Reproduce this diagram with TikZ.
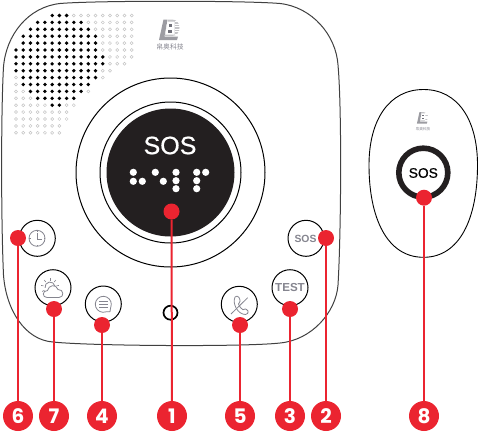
\documentclass[tikz,border=0pt]{standalone}
\usepackage{fontspec}
\setmainfont{Liberation Sans}
\newfontfamily\numfont{Poppins}
\newfontfamily\medfont[FakeBold=0.6]{Liberation Sans}
\newfontfamily\cjk{Noto Sans CJK SC}
\usepackage{xcolor}
\definecolor{sbred}{HTML}{EB2430}
\definecolor{sbdisk}{HTML}{231F20}
\definecolor{sbicon}{HTML}{85858F}
\definecolor{sbdot}{HTML}{C4C4C4}
\definecolor{sblogo}{HTML}{9C9CA2}
\newcommand{\fsz}[1]{\fontsize{#1}{#1}\selectfont}
\tikzset{
  logomark/.pic={
    \fill[sblogo] (-6.5,-10.5) -- (-2.5,-10.5) -- (-5.5,6.5) -- (8,6.5) -- (7,10) -- (-11,10) -- cycle;
    \fill[sblogo!60] (-2,-10.5) -- (2,-10.5) .. controls (12,-10.5) and (12,6) .. (2,6) -- (-5,6) -- cycle;
    \foreach \sy in {-8.5,-6,...,5}{\draw[white,line width=.7] (4.5,\sy) -- (11,\sy);}
    \fill[white] (-2.6,-8.5) -- (4.5,-8.5) -- (4.5,4.5) -- (-4.6,4.5) -- cycle;
    \fill[sbicon!85!black] (-1.2,-6) rectangle (2.2,-3);
    \fill[sbicon!85!black] (-1.8,-.5) rectangle (1.7,2.5);
  }
}
\begin{document}
\begin{tikzpicture}[
  x=1pt,y=-1pt,
  ring/.style={circle,draw=black,line width=1pt,fill=white,inner sep=0pt},
  button/.style={ring,minimum size=36pt},
  btntext/.style={font=\bfseries\fsz{#1},text=sbicon,inner sep=0pt},
  icon/.style={draw=sbicon,line width=.8pt},
  reddot/.style={circle,fill=sbred,minimum size=16pt,inner sep=0pt},
  numdot/.style={circle,fill=sbred,minimum size=30pt,inner sep=0pt,text=white,font=\numfont\bfseries\fsz{20}},
  leader/.style={draw=sbred,line width=2pt},
  brl/.style={fill=white,radius=3.6}
]
\useasboundingbox (0,0) rectangle (478,431);

% main unit
\draw[draw=black!75,line width=1pt] (60,3.5) .. controls (28,7) and (6,35) .. (3.5,67)
  .. controls (1,110) and (1,220) .. (3.5,275) .. controls (6,310) and (25,340) .. (53,342)
  .. controls (90,346) and (245,347) .. (280,343) .. controls (312,340) and (336,312) .. (338,285)
  .. controls (341,235) and (342,110) .. (338,65) .. controls (336,35) and (312,7) .. (280,3.5)
  .. controls (245,.5) and (95,.5) .. (60,3.5) -- cycle;

% speaker holes
\foreach \row/\st/\ba/\bb/\gr in {0/5/5/7/16,1/3/3/9/16,2/2/2/10/16,3/1/1/11/16,4/1/1/11/16,5/0/0/11/16,
  6/0/0/12/16,7/0/0/12/15,8/0/0/11/13,9/0/1/11/12,10/0/1/10/10,11/0/2/9/10,12/0/3/8/8,13/0/5/6/8,
  14/0/99/99/7,15/0/99/99/7,16/0/99/99/6,17/0/99/99/6}{
  \foreach \col in {\st,...,\gr}{
    \pgfmathsetmacro{\hx}{16+7.23*\col}
    \pgfmathsetmacro{\hy}{15.5+6.9*\row}
    \ifnum\col<\ba
      \draw[sbdot,line width=.5pt] (\hx,\hy) circle (1.5);
    \else\ifnum\col>\bb
      \draw[sbdot,line width=.5pt] (\hx,\hy) circle (1.5);
    \else
      \fill[black] (\hx,\hy) circle (1.9);
    \fi\fi
  }
}

% logo
\pic at (170,30) {logomark};
\node[inner sep=0pt,text=sbicon,font=\cjk\fsz{6.8}] (brand) at (170,47) {帛奥科技};

% centre button
\node[ring,minimum size=189pt] (outerring) at (170.5,172.5) {};
\node[ring,minimum size=141pt] (innerring) at (170.5,172.5) {};
\node[circle,fill=sbdisk,minimum size=128pt,inner sep=0pt] (disk) at (170.5,172.5) {};
\node[text=white,inner sep=0pt,font=\medfont\fsz{25}] (sostext) at (170,145.5) {SOS};
\foreach \bx/\by in {133.3/172.3,133.3/181.3,142.3/181.3,155.3/172.3,163.3/181.3,176/172.3,176/180.7,176/188.7,196.7/172.3,205.7/172.3,196.7/180.7,196.7/188.7}{
  \fill[brl] (\bx,\by) circle;
}

% side buttons
\node[button] (clock) at (37.3,238.3) {};
\node[button] (weather) at (53,287.7) {};
\node[button] (chat) at (103.3,304) {};
\node[button] (phone) at (239.3,304.3) {};
\node[button] (test) at (290,287.7) {};
\node[button] (sosbtn) at (306,238.3) {};
\node[btntext=10.4] (sosbtntext) at (305.5,239) {SOS};
\node[btntext=11.6] (testtext) at (290,288) {TEST};
\node[circle,draw=black,line width=1.7pt,minimum size=14pt,inner sep=0pt] (hole) at (170.5,312.7) {};

% icons
\draw[icon] (37,238.3) circle (8);
\draw[icon] (37,233) -- (37,239) -- (41.5,239);
\foreach \ta in {0,90,180,270}{\draw[icon,line width=.5pt] (37,238.3) ++(\ta:8) -- ++(\ta+180:1.5);}
\draw[icon] (50,287) ++(170:5) arc (170:350:5);
\foreach \ra in {150,190,230,270,310,350}{\draw[icon,line width=.6pt] (50,287) ++(\ra:6.5) -- ++(\ra:2.5);}
\draw[icon,fill=white,line join=round] (47,297.5) .. controls (42,297.5) and (42,290.5) .. (47.5,290.5)
  .. controls (48.5,285) and (56,283.5) .. (58,289.5)
  .. controls (64,289) and (64.5,297.5) .. (59,297.5) -- cycle;
\draw[icon,line join=round] (103.3,304.3) ++(70:8) arc (70:380:8) .. controls (110.8,307) and (110.2,309.5) .. (110,311.7)
  .. controls (108.5,311.5) and (107.5,311.5) .. (106,311.8);
\foreach \ly in {301.5,304.3,307}{\draw[icon,line width=.6pt] (99,\ly) -- (107.5,\ly);}
\draw[icon,line join=round] (235,297) .. controls (236.5,295.5) and (238,296) .. (239,297.5)
  .. controls (240.5,300.5) and (240.5,302.5) .. (238.5,304) .. controls (239.5,307) and (241,308.5) .. (243,309.7)
  .. controls (244.5,308.5) and (246,308.5) .. (248,311) .. controls (248.8,312.5) and (247.5,314.5) .. (245.5,314.5)
  .. controls (238,314.5) and (232,304) .. (235,297) -- cycle;
\draw[icon] (231,314) -- (247.7,297.7);

% pendant
\draw[draw=black,line width=.9pt] (423.5,89.5) .. controls (458,89.5) and (477.5,120) .. (477.5,165)
  .. controls (477.5,218) and (460,257.3) .. (423.5,257.3)
  .. controls (387,257.3) and (369,218) .. (369,165)
  .. controls (369,120) and (389,89.5) .. (423.5,89.5) -- cycle;
\pic[scale=.55] at (423,118) {logomark};
\node[inner sep=0pt,text=sbicon,font=\cjk\fsz{3.7}] (brandsmall) at (423,128.7) {帛奥科技};
\node[circle,draw=sbdisk,line width=5.6pt,minimum size=49pt,inner sep=0pt,fill=white] (pendantring) at (423.3,172.7) {};
\node[inner sep=0pt,font=\medfont\fsz{13.8}] (pendantsos) at (423.3,173) {SOS};

% callouts
\foreach \num/\dx/\dy/\nx in {1/171.5/211.5/172,2/326/238/326,3/290/309/290,4/102/325/102,5/240/325/240,6/18/238/18,7/54/309/54,8/424/197.7/424}{
  \node[reddot] (d\num) at (\dx,\dy) {};
  \node[numdot] (n\num) at (\nx,416) {\num};
  \draw[leader] (d\num) -- (n\num);
}
\end{tikzpicture}
\end{document}
